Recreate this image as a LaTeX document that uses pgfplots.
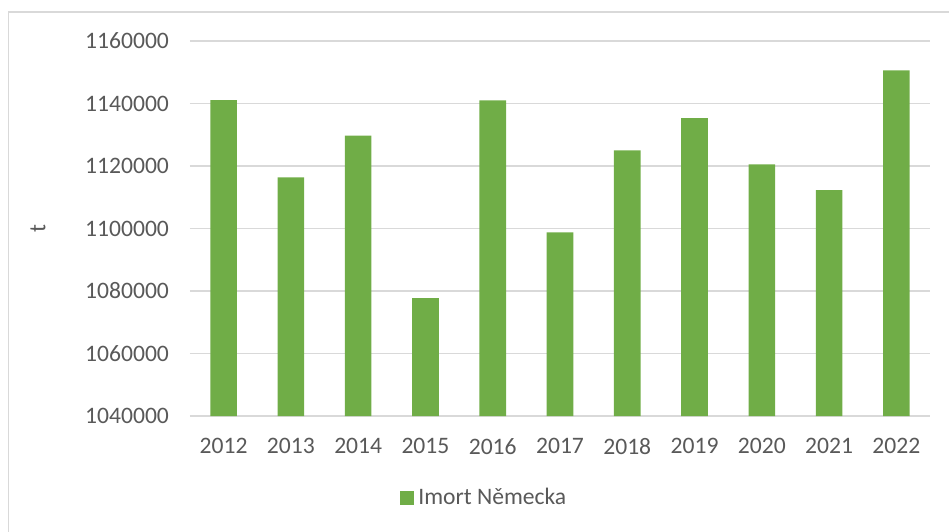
\documentclass[border=0pt]{standalone}
\usepackage{pgfplots}
\pgfplotsset{compat=1.18}
\usepackage{pgfplotstable}
\usepackage{fontspec}
\setmainfont{Carlito}
\definecolor{bargreen}{HTML}{70AD47}
\definecolor{gridgray}{HTML}{D9D9D9}
\definecolor{textgray}{HTML}{595959}
\pgfplotstableread{
x y
0 1141100
1 1116400
2 1129700
3 1077700
4 1141000
5 1098800
6 1125000
7 1135300
8 1120500
9 1112300
10 1150600
}\imports
\begin{document}
\begin{tikzpicture}
\useasboundingbox (0,0) rectangle (474.5pt,-265.5pt);
\draw[gridgray, line width=0.6pt] (4.2pt,-290pt) -- (4.2pt,-6pt) -- (500pt,-6pt);
\begin{axis}[
  at={(95pt,-208pt)}, anchor=south west,
  scale only axis, width=370pt, height=187.5pt,
  ymin=1040000, ymax=1160000,
  ytick={1040000,1060000,1080000,1100000,1120000,1140000,1160000},
  xmin=-0.5, xmax=10.5,
  xtick=data,
  xticklabels={2012,2013,2014,2015,2016,2017,2018,2019,2020,2021,2022},
  ymajorgrids,
  grid style={gridgray, line width=0.7pt},
  axis line style={draw=none},
  tick style={draw=none},
  scaled y ticks=false,
  /pgf/number format/assume math mode=true,
  yticklabel style={/pgf/number format/fixed, /pgf/number format/1000 sep={}, xshift=-7pt},
  xticklabel style={yshift=-7.5pt},
  tick label style={font=\fontsize{11.8pt}{14pt}\selectfont, text=textgray},
  ylabel={t},
  ylabel style={at={(axis description cs:-0.2054,0.5)}, anchor=center, font=\fontsize{11.8pt}{14pt}\selectfont, text=textgray},
  legend style={at={(0.399,-0.219)}, anchor=center, draw=none, fill=none,
    font=\fontsize{11.8pt}{14pt}\selectfont, text=textgray,
    inner sep=0pt, outer sep=0pt},
  legend cell align=left,
  legend image code/.code={\fill[bargreen] (0pt,-3.5pt) rectangle (7pt,3.5pt);},
]
\addplot[ybar, bar width=13.3pt, fill=bargreen, draw=none] table[x=x, y=y] {\imports};
\addlegendentry{Imort Německa}
\end{axis}
\end{tikzpicture}
\end{document}
